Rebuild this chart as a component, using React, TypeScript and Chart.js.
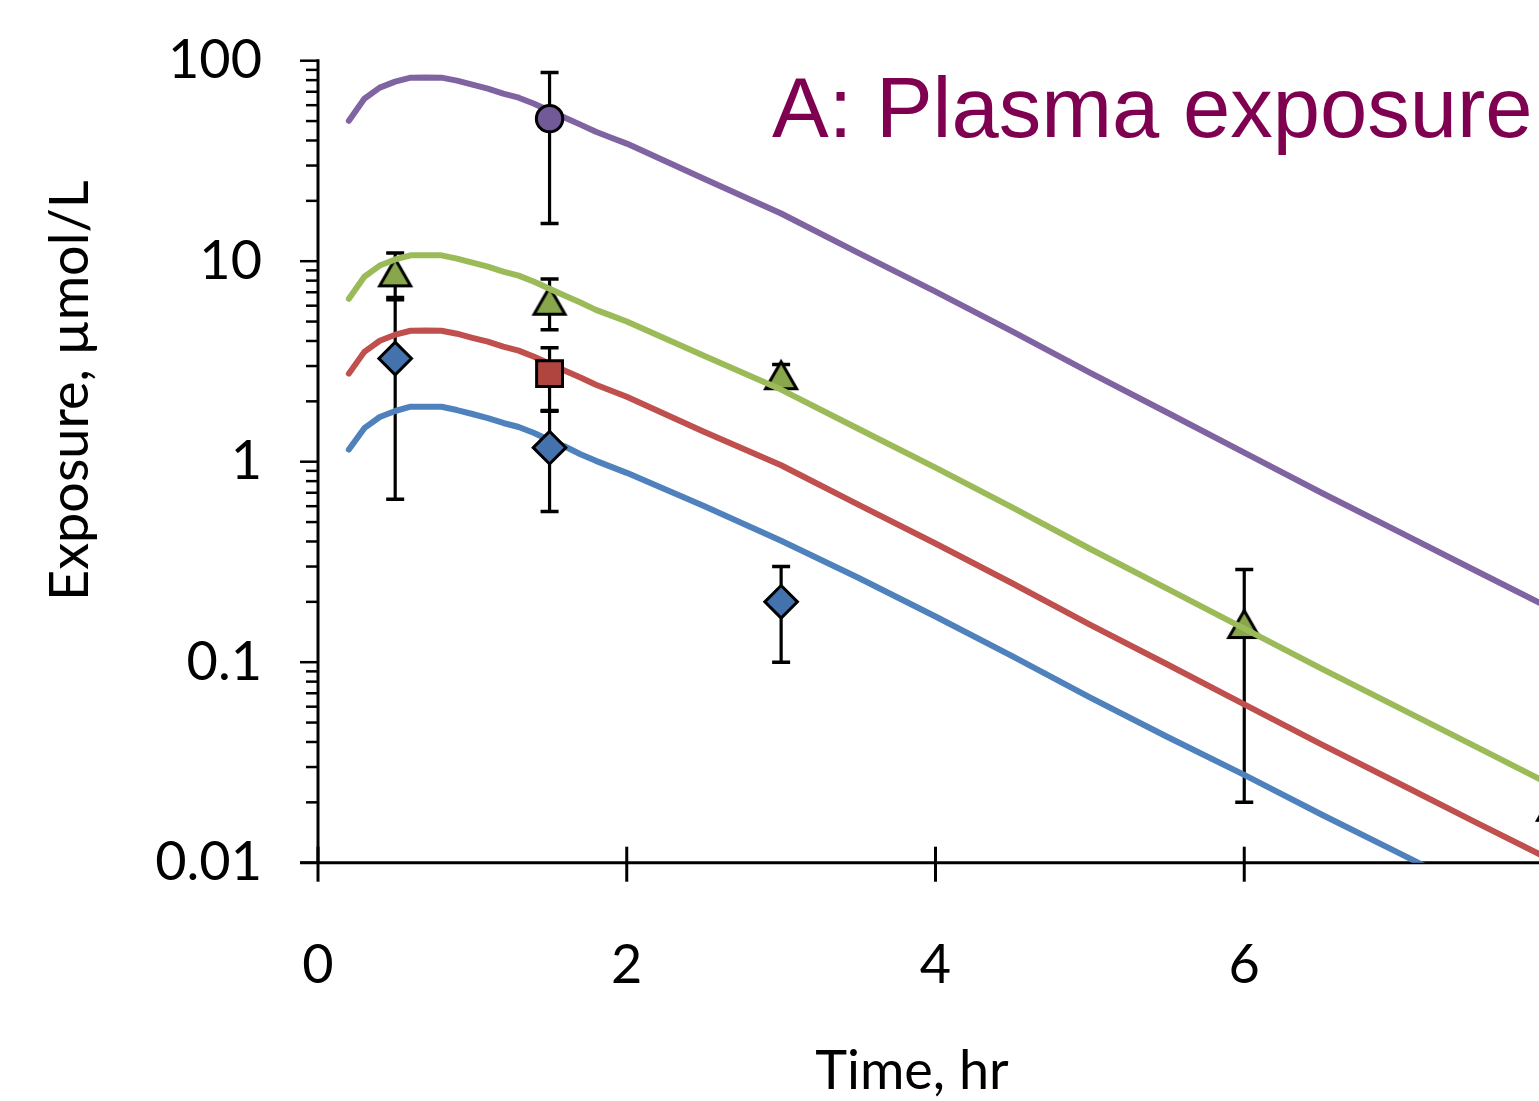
import React, { useEffect, useRef } from 'react';
import { Chart, registerables } from 'chart.js';

Chart.register(...registerables);

// ---- Model curves (hr, µmol/L) ----
const modelTimes = [0.2, 0.3, 0.4, 0.5, 0.6, 0.7, 0.8, 0.9, 1.0, 1.1, 1.2, 1.3, 1.4, 1.5, 1.6, 1.7, 1.8, 1.9, 2.0, 2.5, 3.0, 3.5, 4.0, 4.5, 5.0, 5.5, 6.0, 6.5, 7.0, 7.5, 8.0];
const purpleModel = [50.2, 64.6, 73.4, 78.6, 82.3, 82.5, 82.3, 79.5, 75.9, 72.5, 68.5, 65.4, 61.0, 56.3, 52.0, 48.0, 44.2, 41.3, 38.6, 25.8, 17.3, 11.0, 7.05, 4.45, 2.78, 1.76, 1.11, 0.70, 0.448, 0.286, 0.183];
const greenModel = [6.50, 8.37, 9.51, 10.2, 10.7, 10.7, 10.7, 10.3, 9.83, 9.39, 8.87, 8.47, 7.90, 7.29, 6.73, 6.22, 5.72, 5.35, 5.00, 3.38, 2.29, 1.46, 0.934, 0.590, 0.368, 0.233, 0.147, 0.0928, 0.0594, 0.0379, 0.0242];
const redModel = [2.75, 3.53, 4.01, 4.30, 4.50, 4.51, 4.50, 4.35, 4.15, 3.97, 3.75, 3.58, 3.34, 3.08, 2.84, 2.63, 2.42, 2.26, 2.11, 1.41, 0.960, 0.611, 0.391, 0.247, 0.154, 0.0977, 0.0616, 0.0389, 0.0249, 0.0159, 0.0102];
const blueModel = [1.15, 1.47, 1.67, 1.79, 1.88, 1.88, 1.88, 1.81, 1.73, 1.65, 1.56, 1.49, 1.39, 1.28, 1.19, 1.09, 1.01, 0.942, 0.880, 0.601, 0.403, 0.264, 0.169, 0.107, 0.0667, 0.0425, 0.0274, 0.0174, 0.0112, 0.00716, 0.00458];

// ---- Observed data (mean, +error, -error) ----
const blueObsTimes = [0.5, 1.5, 3];
const blueObs = [3.27, 1.175, 0.2];
const blueObsErrPlus = [3.15, 0.61, 0.1];
const blueObsErrMinus = [2.62, 0.61, 0.1];

const redObsTimes = [1.5];
const redObs = [2.75];
const redObsErrPlus = [0.95];
const redObsErrMinus = [0.95];

const greenObsTimes = [0.5, 1.5, 3, 6, 8];
const greenObs = [8.8, 6.35, 2.7, 0.155, 0.019];
const greenObsErrPlus = [2.2, 1.8, 0.35, 0.135, 0.01];
const greenObsErrMinus = [2.2, 1.8, 0.35, 0.135, 0.01];

const purpleObsTimes = [1.5];
const purpleObs = [51.4];
const purpleObsErrPlus = [36];
const purpleObsErrMinus = [36];

// ---- Axes ----
const xTicks = [0, 2, 4, 6, 8];
const yMajorTicks = [0.01, 0.1, 1, 10, 100];
const yTickLabels = ['0.01', '0.1', '1', '10', '100'];
const yMinorSteps = [2, 3, 4, 5, 6, 7, 8, 9];

const titleText = 'A: Plasma exposure';
const xTitle = 'Time, hr';
const yTitle = 'Exposure, µmol/L';

const errorSets = [
  { t: blueObsTimes, v: blueObs, ep: blueObsErrPlus, em: blueObsErrMinus },
  { t: redObsTimes, v: redObs, ep: redObsErrPlus, em: redObsErrMinus },
  { t: greenObsTimes, v: greenObs, ep: greenObsErrPlus, em: greenObsErrMinus },
  { t: purpleObsTimes, v: purpleObs, ep: purpleObsErrPlus, em: purpleObsErrMinus },
];

function makeTriangle(fill: string) {
  const c = document.createElement('canvas');
  c.width = 44;
  c.height = 44;
  const g = c.getContext('2d')!;
  g.beginPath();
  g.moveTo(22, 8.5);
  g.lineTo(37.5, 35.5);
  g.lineTo(6.5, 35.5);
  g.closePath();
  g.fillStyle = fill;
  g.fill();
  g.lineWidth = 3;
  g.strokeStyle = '#000';
  g.lineJoin = 'miter';
  g.stroke();
  return c;
}

const excelPlugin = {
  id: 'excelAxes',
  beforeDatasetsDraw(chart: any) {
    const { ctx, scales } = chart;
    const xs = scales.x;
    const ys = scales.y;
    const x0 = xs.getPixelForValue(xTicks[0]);
    const xEnd = xs.getPixelForValue(xTicks[xTicks.length - 1]);
    const yBot = ys.getPixelForValue(yMajorTicks[0]);
    const yTop = ys.getPixelForValue(yMajorTicks[yMajorTicks.length - 1]);
    ctx.save();
    ctx.strokeStyle = '#000';
    ctx.lineCap = 'butt';
    ctx.lineWidth = 3;
    ctx.beginPath();
    ctx.moveTo(x0, yTop - 1.5);
    ctx.lineTo(x0, yBot);
    ctx.stroke();
    ctx.beginPath();
    ctx.moveTo(x0 - 18, yBot);
    ctx.lineTo(xEnd + 40, yBot);
    ctx.stroke();
    ctx.lineWidth = 2.5;
    yMajorTicks.forEach((m, i) => {
      const y = ys.getPixelForValue(m);
      ctx.beginPath();
      ctx.moveTo(x0 - 18, y);
      ctx.lineTo(x0, y);
      ctx.stroke();
      if (i < yMajorTicks.length - 1) {
        yMinorSteps.forEach((s) => {
          const yy = ys.getPixelForValue(m * s);
          ctx.beginPath();
          ctx.moveTo(x0 - 12, yy);
          ctx.lineTo(x0, yy);
          ctx.stroke();
        });
      }
    });
    ctx.lineWidth = 3;
    xTicks.forEach((t) => {
      const x = xs.getPixelForValue(t);
      ctx.beginPath();
      ctx.moveTo(x, yBot - 16);
      ctx.lineTo(x, yBot + 19);
      ctx.stroke();
    });
    errorSets.forEach((s) => {
      s.t.forEach((t, i) => {
        const x = xs.getPixelForValue(t);
        const hi = s.v[i] + s.ep[i];
        const lo = s.v[i] - s.em[i];
        const yHi = ys.getPixelForValue(hi);
        const yLo = lo > 0 ? ys.getPixelForValue(lo) : yBot;
        ctx.lineWidth = 3.2;
        ctx.beginPath();
        ctx.moveTo(x, yHi);
        ctx.lineTo(x, yLo);
        ctx.stroke();
        ctx.lineWidth = 3.5;
        ctx.beginPath();
        ctx.moveTo(x - 9, yHi);
        ctx.lineTo(x + 9, yHi);
        if (lo > 0) {
          ctx.moveTo(x - 9, yLo);
          ctx.lineTo(x + 9, yLo);
        }
        ctx.stroke();
      });
    });
    ctx.restore();
  },
  afterDraw(chart: any) {
    const { ctx, chartArea } = chart;
    ctx.save();
    ctx.fillStyle = '#000';
    ctx.font = '54px Lato';
    ctx.textBaseline = 'alphabetic';
    ctx.textAlign = 'center';
    ctx.fillText(xTitle, chartArea.left + 594, chartArea.bottom + 226);
    ctx.save();
    ctx.translate(chartArea.left - 230, chartArea.top + 330);
    ctx.rotate(-Math.PI / 2);
    ctx.fillText(yTitle, 0, 0);
    ctx.restore();
    ctx.font = '85px "Liberation Sans"';
    ctx.fillStyle = '#7F0050';
    ctx.textAlign = 'left';
    ctx.fillText(titleText, chartArea.left + 454, chartArea.top + 76);
    ctx.restore();
  },
};

const TARGET_TOP = 60.7;
const TARGET_RIGHT = 1553;

export default function App() {
  const ref = useRef<HTMLCanvasElement>(null);

  useEffect(() => {
    document.body.style.margin = '0';
    document.body.style.overflow = 'hidden';
    const triangle = makeTriangle('#88A64C');
    const lineDs = (label: string, data: number[], color: string, order: number) => ({
      label,
      data: modelTimes.map((t, i) => ({ x: t, y: data[i] })),
      showLine: true,
      borderColor: color,
      backgroundColor: color,
      borderWidth: 6,
      borderJoinStyle: 'round',
      borderCapStyle: 'round',
      pointRadius: 0,
      pointHoverRadius: 0,
      tension: 0,
      fill: false,
      order,
      clip: 0,
    });
    const obsDs = (label: string, times: number[], vals: number[], style: any, radius: number, fill: string, order: number) => ({
      label,
      data: times.map((t, i) => ({ x: t, y: vals[i] })),
      showLine: false,
      pointStyle: style,
      pointRadius: radius,
      pointHoverRadius: radius,
      pointBackgroundColor: fill,
      pointBorderColor: '#000',
      pointBorderWidth: 3,
      order,
      clip: false,
    });

    const padding = { left: 0, top: TARGET_TOP, right: 1600 - TARGET_RIGHT, bottom: 0 };

    const chart = new Chart(ref.current!, {
      type: 'scatter',
      data: {
        datasets: [
          lineDs('Model green', greenModel, '#9BBB59', 0),
          obsDs('Observed green', greenObsTimes, greenObs, triangle, 17, '#88A64C', 1),
          obsDs('Observed purple', purpleObsTimes, purpleObs, 'circle', 13.2, '#725A98', 2),
          obsDs('Observed red', redObsTimes, redObs, 'rect', 18.3, '#B0443F', 2),
          obsDs('Observed blue', blueObsTimes, blueObs, 'rectRot', 16.3, '#4472AD', 2),
          lineDs('Model purple', purpleModel, '#8064A2', 3),
          lineDs('Model red', redModel, '#C0504D', 3),
          lineDs('Model blue', blueModel, '#4F81BD', 3),
        ] as any,
      },
      options: {
        animation: false,
        responsive: false,
        maintainAspectRatio: false,
        devicePixelRatio: 1,
        layout: { padding },
        plugins: { legend: { display: false }, tooltip: { enabled: false }, title: { display: false } },
        events: [],
        scales: {
          x: {
            type: 'linear',
            min: 0,
            max: 8,
            grid: { display: false, drawTicks: false },
            border: { display: false },
            afterBuildTicks: (scale: any) => {
              scale.ticks = xTicks.map((v) => ({ value: v }));
            },
            afterFit: (scale: any) => {
              scale.height = 238.3;
              scale.paddingLeft = 0;
              scale.paddingRight = 0;
            },
            ticks: {
              autoSkip: false,
              maxRotation: 0,
              padding: 70,
              color: '#000',
              font: { family: 'Lato', size: 54 },
              callback: (v: any) => String(v),
            },
          },
          y: {
            type: 'logarithmic',
            min: 0.01,
            max: 100,
            grid: { display: false, drawTicks: false },
            border: { display: false },
            afterBuildTicks: (scale: any) => {
              const ticks: any[] = [];
              yMajorTicks.forEach((m, i) => {
                ticks.push({ value: m, major: true });
                if (i < yMajorTicks.length - 1) yMinorSteps.forEach((s) => ticks.push({ value: m * s, major: false }));
              });
              scale.ticks = ticks;
            },
            afterFit: (scale: any) => {
              scale.width = 318;
              scale.paddingTop = 0;
              scale.paddingBottom = 0;
            },
            ticks: {
              autoSkip: false,
              padding: 56,
              color: '#000',
              font: { family: 'Lato', size: 54 },
              callback: (v: any) => {
                const idx = yMajorTicks.findIndex((m) => Math.abs(m - v) / m < 1e-9);
                return idx >= 0 ? yTickLabels[idx] : '';
              },
            },
          },
        },
      },
      plugins: [excelPlugin],
    } as any);

    for (let k = 0; k < 4; k++) {
      const eTop = TARGET_TOP - chart.chartArea.top;
      const eRight = TARGET_RIGHT - chart.chartArea.right;
      if (Math.abs(eTop) < 0.3 && Math.abs(eRight) < 0.3) break;
      padding.top = Math.max(0, padding.top + eTop);
      padding.right = Math.max(0, padding.right - eRight);
      (chart.config.options as any).layout.padding = { ...padding };
      chart.update();
    }
    return () => chart.destroy();
  }, []);

  return (
    <div style={{ position: 'fixed', left: 0, top: 0, width: 1539, height: 1101, overflow: 'hidden', background: '#fff' }}>
      <canvas ref={ref} width={1600} height={1101} style={{ display: 'block', width: 1600, height: 1101 }} />
    </div>
  );
}
